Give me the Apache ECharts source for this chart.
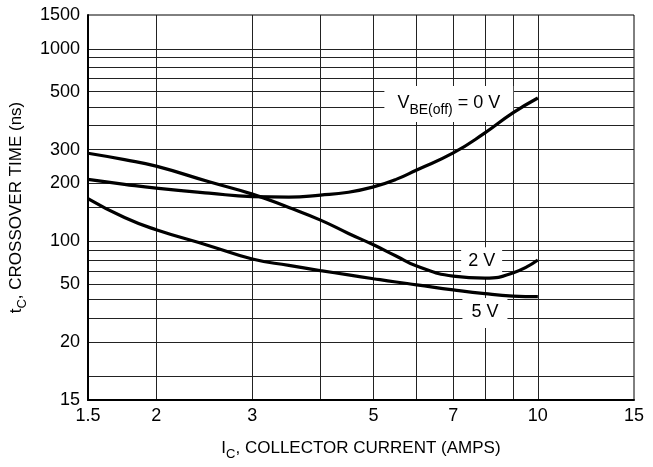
<!DOCTYPE html>
<html><head><meta charset="utf-8">
<script src="https://cdn.jsdelivr.net/npm/echarts@6/dist/echarts.min.js"></script>
<style>html,body{margin:0;padding:0;background:#fff}#c{width:653px;height:467px}</style>
</head><body><div id="c"></div>
<script>
// ---- data (log-log chart) ----
const currentA = [1.5, 1.75, 2, 2.5, 3, 3.5, 4, 4.5, 5, 5.5, 6, 7, 8, 9, 10];
const tc0V = [210, 198, 189, 178, 171, 170, 174, 180, 192, 210, 235, 288, 366, 465, 556];
const tc2V = [287, 266, 246, 204, 176, 150, 129, 110, 96, 84, 74.5, 66, 64.5, 68.5, 80];
const tc5V = [167, 133, 115, 95, 81, 75, 70.5, 67, 64, 61.5, 59.5, 56, 53.5, 52, 51.6];

const xTickVals = [1.5, 2, 3, 5, 7, 10, 15];
const xTickText = ['1.5', '2', '3', '5', '7', '10', '15'];
const xGridVals = [2, 3, 4, 5, 6, 7, 8, 9, 10];
const yTickVals = [15, 30, 60, 100, 200, 300, 600, 1000, 1500];
const yTickText = ['15', '20', '50', '100', '200', '300', '500', '1000', '1500'];
const yGridVals = [20, 30, 40, 50, 60, 70, 80, 90, 100, 150, 200, 300, 400, 500, 600, 700, 800, 900, 1000];

// ---- chart ----
const L = Math.log10;
const FONT = "'Liberation Sans', Arial, sans-serif";
function lookup(vals, texts, v) {
  for (let i = 0; i < vals.length; i++) if (Math.abs(L(vals[i]) - v) < 1e-6) return texts[i];
  return '';
}
function pts(ys) { return currentA.map((x, i) => [L(x), L(ys[i])]); }
const rich = {
  m: {fontFamily: FONT, fontSize: 18, color: '#000', lineHeight: 20, verticalAlign: 'top'},
  s: {fontFamily: FONT, fontSize: 14, color: '#000', lineHeight: 14, padding: [9, 0, 0, 0], verticalAlign: 'top'}
};
const richT = {
  m: {fontFamily: FONT, fontSize: 17, color: '#000', lineHeight: 19, verticalAlign: 'top'},
  s: {fontFamily: FONT, fontSize: 13, color: '#000', lineHeight: 13, padding: [8, 0, 0, 0], verticalAlign: 'top'}
};
const lineSeries = (data) => ({
  type: 'line', data: pts(data), smooth: 0.5, showSymbol: false, z: 10,
  lineStyle: {color: '#000', width: 3.2}, silent: true
});
const box = (x, y, fmt, pad) => ({
  coord: [L(x), L(y)], symbol: 'rect', symbolSize: 1, itemStyle: {color: 'rgba(0,0,0,0)'},
  label: {show: true, position: 'inside', formatter: fmt, backgroundColor: '#fff', padding: pad, rich: rich}
});
const option = {
  animation: false,
  backgroundColor: '#fff',
  grid: {left: 86, right: 19, top: 15, bottom: 67, show: true, borderColor: '#000', borderWidth: 1},
  xAxis: {
    type: 'value', min: L(1.5), max: L(15),
    name: '{m|I}{s|C}{m|, COLLECTOR CURRENT (AMPS)}', nameLocation: 'middle', nameGap: 40,
    nameTextStyle: {rich: richT},
    axisLine: {show: true, lineStyle: {color: '#000', width: 2}},
    axisTick: {show: false, customValues: xGridVals.map(L)},
    splitLine: {show: true, lineStyle: {color: '#222', width: 1}},
    axisLabel: {customValues: xTickVals.map(L), margin: 7, color: '#000', fontFamily: FONT, fontSize: 18,
      formatter: v => lookup(xTickVals, xTickText, v)}
  },
  yAxis: {
    type: 'value', min: L(15), max: L(1500),
    name: '{m|t}{s|C}{m|, CROSSOVER TIME (ns)}', nameLocation: 'middle', nameGap: 57, nameRotate: 90,
    nameTextStyle: {rich: richT},
    axisLine: {show: true, lineStyle: {color: '#000', width: 2}},
    axisTick: {show: false, customValues: yGridVals.map(L)},
    splitLine: {show: true, lineStyle: {color: '#222', width: 1}},
    axisLabel: {customValues: yTickVals.map(L), margin: 8, color: '#000', fontFamily: FONT, fontSize: 18,
      formatter: v => lookup(yTickVals, yTickText, v)}
  },
  series: [
    lineSeries(tc0V), lineSeries(tc2V), lineSeries(tc5V),
    {
      type: 'scatter', data: [], z: 3, silent: true,
      markPoint: {
        z: 3, silent: true,
        data: [
          box(6.87, 517, '{m|V}{s|BE(off)}{m| = 0 V}', [8, 13, 8, 13]),
          box(7.89, 78, '{m|2 V}', [5, 7, 5, 7]),
          box(8.0, 42.5, '{m|5 V}', [5, 9, 5, 9])
        ]
      }
    }
  ]
};
const chart = echarts.init(document.getElementById('c'), null, {renderer: 'canvas'});
chart.setOption(option);
</script>
</body></html>
